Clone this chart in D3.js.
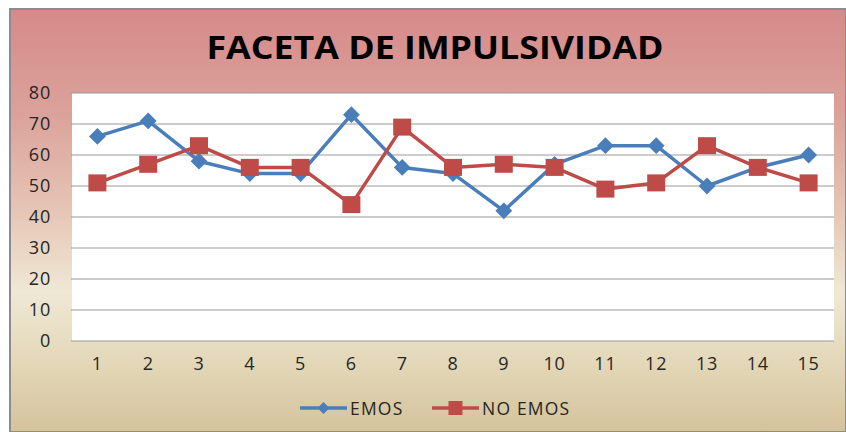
<!DOCTYPE html>
<html>
<head>
<meta charset="utf-8">
<script src="https://cdn.jsdelivr.net/npm/d3@7"></script>
<style>
  html, body { margin: 0; padding: 0; background: #fff; }
  svg { display: block; }
</style>
</head>
<body>
<svg id="chart" width="846" height="432"></svg>
<script>
const categories = ["1","2","3","4","5","6","7","8","9","10","11","12","13","14","15"];
const emos   = [66, 71, 58, 54, 54, 73, 56, 54, 42, 57, 63, 63, 50, 56, 60];
const noEmos = [51, 57, 63, 56, 56, 44, 69, 56, 57, 56, 49, 51, 63, 56, 51];
const yTicks = [0, 10, 20, 30, 40, 50, 60, 70, 80];
const seriesNames = ["EMOS", "NO EMOS"];

const width = 846, height = 432;
const plot = { left: 72, right: 834, top: 93, bottom: 341 };
const font = "'Open Sans', 'DejaVu Sans', sans-serif";
const blue = "#4a7ebb", red = "#be4b48";

const svg = d3.select("#chart");

// background gradient of the chart area
const defs = svg.append("defs");
const grad = defs.append("linearGradient")
  .attr("id", "bg").attr("x1", 0).attr("y1", 0).attr("x2", 0).attr("y2", 1);
[["0%", "#d68a8a"], ["25%", "#dba29b"], ["48%", "#e6c6b6"], ["67%", "#efe8d5"], ["85%", "#e2d6b6"], ["100%", "#d4c39c"]]
  .forEach(([o, c]) => grad.append("stop").attr("offset", o).attr("stop-color", c));

svg.append("rect")
  .attr("x", 10).attr("y", 9)
  .attr("width", width - 10).attr("height", height - 9)
  .attr("fill", "url(#bg)")
  .attr("stroke", "#8c8c8c").attr("stroke-width", 2);

// title
svg.append("text")
  .attr("x", 435).attr("y", 59)
  .attr("text-anchor", "middle")
  .attr("font-family", font)
  .attr("font-weight", "bold")
  .attr("font-size", 32)
  .attr("textLength", 457)
  .attr("lengthAdjust", "spacingAndGlyphs")
  .attr("fill", "#000")
  .text("FACETA DE IMPULSIVIDAD");

const x = d3.scaleBand().domain(categories).range([plot.left, plot.right]);
const y = d3.scaleLinear().domain([0, 80]).range([plot.bottom, plot.top]);

// plot area
svg.append("rect")
  .attr("x", plot.left).attr("y", plot.top)
  .attr("width", plot.right - plot.left).attr("height", plot.bottom - plot.top)
  .attr("fill", "#fff");

// gridlines
svg.append("g")
  .selectAll("line")
  .data(yTicks)
  .join("line")
  .attr("x1", plot.left - 1).attr("x2", plot.right)
  .attr("y1", d => y(d)).attr("y2", d => y(d))
  .attr("stroke", "#9a9a9a").attr("stroke-width", 1.2);

// y axis
const yAxis = svg.append("g")
  .attr("transform", `translate(${plot.left - 21},0)`)
  .call(d3.axisLeft(y).tickValues(yTicks).tickSize(0).tickPadding(0));
yAxis.select(".domain").remove();
yAxis.selectAll("text")
  .attr("font-family", font).attr("font-size", 18).attr("fill", "#262626")
  .attr("letter-spacing", 0.8);

// x axis
const xAxis = svg.append("g")
  .attr("transform", `translate(0,${plot.bottom})`)
  .call(d3.axisBottom(x).tickSize(0).tickPadding(16));
xAxis.select(".domain").remove();
xAxis.selectAll("text")
  .attr("font-family", font).attr("font-size", 18).attr("fill", "#262626")
  .attr("letter-spacing", 0.8);

const cx = c => x(c) + x.bandwidth() / 2;
const line = d3.line().x((d, i) => cx(categories[i])).y(d => y(d));
const diamond = d3.symbol().type(d3.symbolDiamond2).size(180);

// EMOS
svg.append("path").datum(emos)
  .attr("fill", "none").attr("stroke", blue).attr("stroke-width", 3.5)
  .attr("stroke-linejoin", "round").attr("d", line);
svg.append("g").selectAll("path")
  .data(emos)
  .join("path")
  .attr("transform", (d, i) => `translate(${cx(categories[i])},${y(d)})`)
  .attr("d", diamond)
  .attr("fill", blue);

// NO EMOS
svg.append("path").datum(noEmos)
  .attr("fill", "none").attr("stroke", red).attr("stroke-width", 3.5)
  .attr("stroke-linejoin", "round").attr("d", line);
svg.append("g").selectAll("rect")
  .data(noEmos)
  .join("rect")
  .attr("x", (d, i) => cx(categories[i]) - 9)
  .attr("y", d => y(d) - 8.5)
  .attr("width", 18).attr("height", 17)
  .attr("fill", red);

// legend
const legend = svg.append("g").attr("transform", "translate(0,408)");
const items = [
  { name: seriesNames[0], color: blue, x0: 300 },
  { name: seriesNames[1], color: red, x0: 432 }
];
items.forEach((it, k) => {
  const g = legend.append("g").attr("transform", `translate(${it.x0},0)`);
  g.append("line").attr("x1", 0).attr("x2", 47).attr("y1", 0).attr("y2", 0)
    .attr("stroke", it.color).attr("stroke-width", 3.5);
  if (k === 0) {
    g.append("path").attr("transform", "translate(23.5,0)")
      .attr("d", d3.symbol().type(d3.symbolDiamond2).size(90)).attr("fill", it.color);
  } else {
    g.append("rect").attr("x", 16.5).attr("y", -7).attr("width", 14).attr("height", 14)
      .attr("fill", it.color);
  }
  g.append("text").attr("x", 50).attr("y", 6.5)
    .attr("font-family", font).attr("font-size", 17.5).attr("fill", "#262626")
    .attr("letter-spacing", 1.2)
    .text(it.name);
});
</script>
</body>
</html>
